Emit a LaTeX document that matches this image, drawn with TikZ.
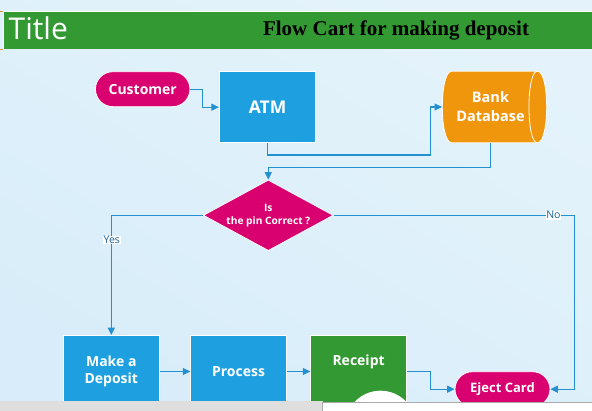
\documentclass[tikz,border=0pt]{standalone}
\usepackage{fontspec}
\setmainfont{Open Sans}
\newfontfamily\serifbold{Liberation Serif}
\usetikzlibrary{arrows.meta,shapes.misc,shapes.geometric}
\definecolor{bg}{RGB}{222,240,250}
\definecolor{bgA}{RGB}{216,237,249}
\definecolor{bgB}{RGB}{228,243,251}
\definecolor{cpink}{RGB}{217,0,111}
\definecolor{cblue}{RGB}{30,160,224}
\definecolor{corange}{RGB}{240,150,12}
\definecolor{cgreen}{RGB}{51,153,51}
\definecolor{cline}{RGB}{35,144,208}
\definecolor{clabel}{RGB}{30,95,140}
\definecolor{barg}{RGB}{222,222,222}
\definecolor{bord}{RGB}{170,170,170}
\definecolor{tick}{RGB}{230,140,40}
\tikzset{
  shp/.style={draw=white,line width=0.8pt,inner sep=0pt,text=white,align=center},
  rectbox/.style={shp,rectangle,fill=cblue,minimum width=96pt,minimum height=72pt,
    font=\bfseries\fontsize{14}{16.7}\selectfont},
  pill/.style={shp,rounded rectangle,fill=cpink,minimum width=95pt,minimum height=35pt,
    font=\bfseries\fontsize{14}{16.7}\selectfont},
  txt/.style={inner sep=0pt,text=white,align=center},
  conn/.style={draw=cline,line width=1.1pt,-{Triangle[length=7.5pt,width=7pt]}},
  lbl/.style={fill=white,text=clabel,inner sep=0.6pt,font=\fontsize{10.5}{12}\selectfont}
}
\begin{document}
\begin{tikzpicture}[x=1pt,y=-1pt]
\useasboundingbox (0,0) rectangle (592,411);
\shade[bottom color=bgA,top color=bgB,shading angle=-30] (0,0) rectangle (592,411);
% title bar
\fill[cgreen] (3.5,11.7) rectangle (592,49);
\draw[white,line width=0.8pt] (3.5,49) -- (3.5,11.7) -- (592,11.7);
\draw[tick,line width=0.8pt] (0,11.7) -- (2.7,11.7) (0,49) -- (2.7,49);
\node[anchor=base west,inner sep=0pt,text=white,font=\fontsize{30}{32}\selectfont] (ttl) at (8.5,40) {Title};
\node[anchor=base,inner sep=0pt,text=black,font=\serifbold\bfseries\fontsize{21}{24}\selectfont] (head) at (396,36) {Flow Cart for making deposit};
% nodes
\node[pill,minimum width=94.5pt] (cust) at (142.7,89.2) {Customer};
\node[rectbox,minimum width=96.4pt,minimum height=71pt,font=\bfseries\fontsize{17.5}{20}\selectfont] (atm) at (267.5,107.2) {ATM};
% bank database
\node[inner sep=0pt,minimum width=96.4pt,minimum height=71.6pt] (bank) at (490.5,107) {};
\fill[corange,draw=white,line width=0.8pt] (451.7,71.2) -- (537.3,71.2)
  .. controls (549.8,71.2) and (549.8,142.8) .. (537.3,142.8) -- (451.7,142.8)
  .. controls (439.2,142.8) and (439.2,71.2) .. (451.7,71.2) -- cycle;
\draw[white,line width=0.8pt] (537.3,71.2) .. controls (526.2,71.2) and (526.2,142.8) .. (537.3,142.8);
\node[txt,font=\bfseries\fontsize{14.5}{19}\selectfont] (banktxt) at (490.5,106.5) {Bank\\Database};
% decision
\node[shp,diamond,fill=cpink,minimum width=130pt,minimum height=70.7pt] (dia) at (268.3,215.3) {};
\node[txt,font=\bfseries\fontsize{10.2}{13.4}\selectfont] (diatxt) at (268.3,215.5) {Is\\the pin Correct ?};
% bottom row
\node[rectbox] (make) at (111.3,371.5) {Make a\\Deposit};
\node[rectbox,minimum width=95.5pt] (proc) at (238.5,371.5) {Process};
\node[shp,rectangle,fill=cgreen,minimum width=95.7pt,minimum height=73pt] (rec) at (358.6,371.5) {};
\begin{scope}
\clip (310.75,335) rectangle (406.45,408);
\fill[white] (380.5,426.2) circle (35.5pt);
\end{scope}
\node[txt,font=\bfseries\fontsize{14}{16.7}\selectfont] (rectxt) at (358.6,362.3) {Receipt};
\node[pill,font=\bfseries\fontsize{13}{16}\selectfont] (eject) at (502.5,389.2) {Eject Card};
% connectors
\coordinate (j1) at (430.5,155);
\coordinate (j2) at (268.3,167.5);
\coordinate (j3) at (574.5,300);
\coordinate (j4) at (430.5,380);
\draw[conn] (cust.east) -- ++(12.3,0) |- (atm.west);
\draw[conn] (atm.south) |- (j1) |- (bank.west);
\draw[conn] (bank.south) |- (j2) -- (dia.north);
\draw[conn] (dia.west) -| (make.north);
\draw[conn] (dia.east) -| (j3) |- (eject.east);
\draw[conn] (make.east) -- (proc.west);
\draw[conn] (proc.east) -- (rec.west);
\draw[conn] (rec.east) -| (j4) |- (eject.west);
\node[lbl] (yes) at (111.8,240) {Yes};
\node[lbl] (no) at (553.4,215.3) {No};
% bottom bar
\fill[barg] (0,401.3) rectangle (322.5,411);
\fill[white] (322.5,402.3) rectangle (592,411);
\draw[bord,line width=0.8pt] (322.5,411) -- (322.5,402.3) -- (592,402.3);
\end{tikzpicture}
\end{document}
